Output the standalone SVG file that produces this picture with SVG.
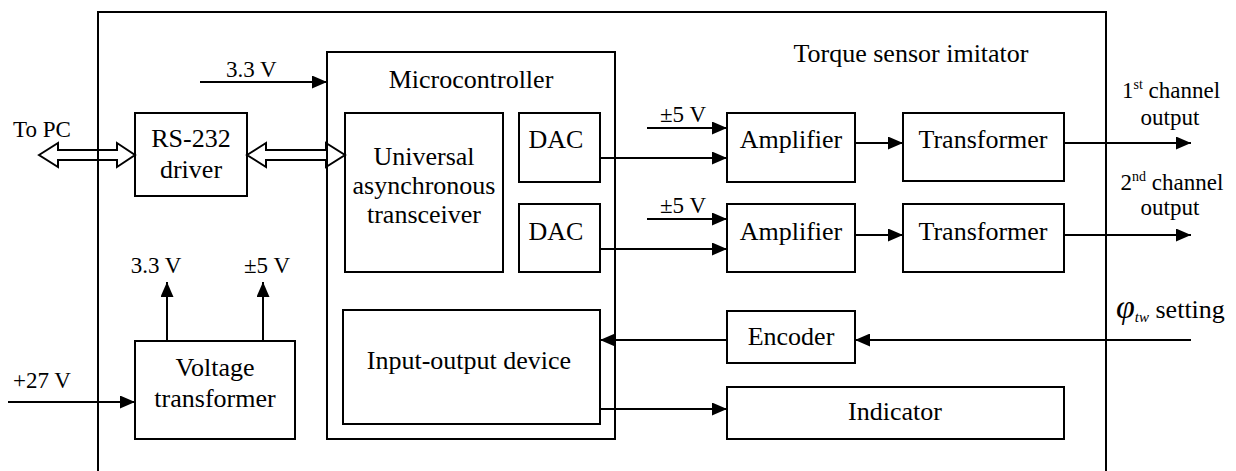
<svg xmlns="http://www.w3.org/2000/svg" width="1236" height="471" viewBox="0 0 1236 471" font-family="'Liberation Serif','Times New Roman',serif">
<style>
.b{fill:none;stroke:#000;stroke-width:2}
.l{fill:none;stroke:#000;stroke-width:2}
.a{marker-end:url(#ah)}
text{font-family:"Liberation Serif","Times New Roman",serif;fill:#000}
.t{font-size:26px;text-anchor:middle}
.s{font-size:23px}
.m{text-anchor:middle}
</style>
<defs>
<marker id="ah" markerUnits="userSpaceOnUse" markerWidth="15" markerHeight="13" refX="15" refY="6.5" orient="auto">
<path d="M0,0 L15,6.5 L0,13 z" fill="#000"/>
</marker>
</defs>
<rect width="1236" height="471" fill="#fff"/>
<g id="imitator">
<path class="b" d="M98,480 V12 H1106 V480"/>
<text x="911" y="62" font-size="26" text-anchor="middle">Torque sensor imitator</text>
</g>
<g id="microcontroller">
<rect class="b" x="327" y="52" width="288" height="387"/>
<text class="t" x="471" y="88">Microcontroller</text>
</g>
<g id="uart">
<rect class="b" x="345" y="113" width="158" height="159"/>
<text class="t" x="424" y="165">Universal</text>
<text class="t" x="424" y="194">asynchronous</text>
<text class="t" x="424" y="223">transceiver</text>
</g>
<g id="dac1">
<rect class="b" x="519" y="113" width="81" height="69"/>
<text class="t" x="556" y="148">DAC</text>
</g>
<g id="dac2">
<rect class="b" x="519" y="204" width="81" height="68"/>
<text class="t" x="556" y="240">DAC</text>
</g>
<g id="io">
<rect class="b" x="343" y="310" width="257" height="114"/>
<text class="t" x="469" y="369">Input-output device</text>
</g>
<g id="rs232">
<rect class="b" x="135" y="113" width="112" height="83"/>
<text class="t" x="191" y="147">RS-232</text>
<text class="t" x="191" y="178">driver</text>
</g>
<g id="vt">
<rect class="b" x="135" y="341" width="160" height="98"/>
<text class="t" x="215" y="376">Voltage</text>
<text class="t" x="215" y="407">transformer</text>
</g>
<g id="amp1">
<rect class="b" x="727" y="113" width="128" height="69"/>
<text class="t" x="791" y="148">Amplifier</text>
</g>
<g id="amp2">
<rect class="b" x="727" y="204" width="128" height="68"/>
<text class="t" x="791" y="240">Amplifier</text>
</g>
<g id="tr1">
<rect class="b" x="903" y="113" width="161" height="68"/>
<text class="t" x="983" y="148">Transformer</text>
</g>
<g id="tr2">
<rect class="b" x="903" y="204" width="161" height="68"/>
<text class="t" x="983" y="240">Transformer</text>
</g>
<g id="encoder">
<rect class="b" x="727" y="311" width="128" height="52"/>
<text class="t" x="791" y="345">Encoder</text>
</g>
<g id="indicator">
<rect class="b" x="727" y="387" width="337" height="52"/>
<text class="t" x="895" y="420">Indicator</text>
</g>
<g id="connectors">
<polygon class="l" points="39,155 58,143 58,150 117,150 117,143 135,155 117,167 117,160 58,160 58,167"/>
<polygon class="l" points="247,155 266,143 266,150 326,150 326,143 345,155 326,167 326,160 266,160 266,167"/>
<line class="l a" x1="200" y1="82" x2="327" y2="82"/>
<line class="l a" x1="167" y1="341" x2="167" y2="282"/>
<line class="l a" x1="263" y1="341" x2="263" y2="282"/>
<line class="l a" x1="8" y1="402" x2="135" y2="402"/>
<line class="l a" x1="600" y1="158" x2="727" y2="158"/>
<line class="l a" x1="647" y1="128" x2="727" y2="128"/>
<line class="l a" x1="600" y1="249" x2="727" y2="249"/>
<line class="l a" x1="647" y1="219" x2="727" y2="219"/>
<line class="l a" x1="855" y1="143" x2="903" y2="143"/>
<line class="l a" x1="855" y1="235" x2="903" y2="235"/>
<line class="l a" x1="1064" y1="143" x2="1191" y2="143"/>
<line class="l a" x1="1064" y1="235" x2="1191" y2="235"/>
<line class="l a" x1="1191" y1="340" x2="855" y2="340"/>
<line class="l a" x1="727" y1="340" x2="600" y2="340"/>
<line class="l a" x1="600" y1="409" x2="727" y2="409"/>
</g>
<g id="labels">
<text class="s" x="13" y="137">To PC</text>
<text class="s" x="226" y="77">3.3 V</text>
<text class="s m" x="156" y="273">3.3 V</text>
<text class="s m" x="267" y="273">±5 V</text>
<text class="s" x="13" y="388">+27 V</text>
<text class="s" x="660" y="122">±5 V</text>
<text class="s" x="660" y="213">±5 V</text>
<text class="s m" x="1171" y="98">1<tspan font-size="14" dy="-9">st</tspan><tspan dy="9"> channel</tspan></text>
<text class="s m" x="1170" y="125">output</text>
<text class="s m" x="1172" y="190">2<tspan font-size="14" dy="-9">nd</tspan><tspan dy="9"> channel</tspan></text>
<text class="s m" x="1170" y="215">output</text>
<text x="1116" y="318" font-size="26"><tspan font-size="34" font-style="italic">φ</tspan><tspan font-size="15" font-style="italic" dy="4">tw</tspan><tspan dy="-4"> setting</tspan></text>
</g>
</svg>
